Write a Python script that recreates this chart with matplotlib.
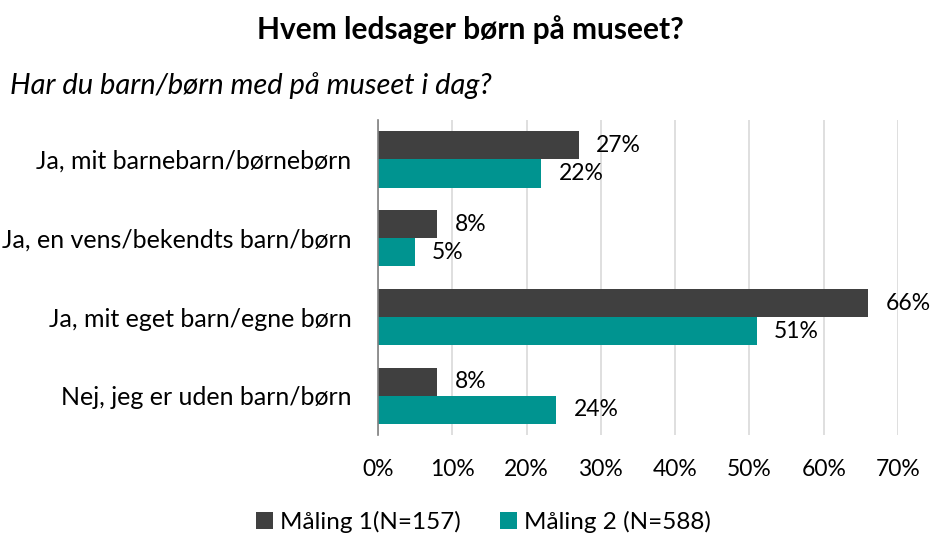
import matplotlib.pyplot as plt
import numpy as np

plt.rcParams['font.family'] = ['Lato', 'DejaVu Sans']

categories = ['Ja, mit barnebarn/børnebørn',
              'Ja, en vens/bekendts barn/børn',
              'Ja, mit eget barn/egne børn',
              'Nej, jeg er uden barn/børn']
maaling1 = [27, 8, 66, 8]
maaling2 = [22, 5, 51, 24]
labels = ['Måling 1(N=157)', 'Måling 2 (N=588)']
ticks = [0, 10, 20, 30, 40, 50, 60, 70]

c1 = '#404040'
c2 = '#009490'

fig = plt.figure(figsize=(9.31, 5.36), dpi=100)
ax = fig.add_axes([0.406, 0.188, 0.5586, 0.588])

y = np.arange(len(categories))
h = 0.356
b1 = ax.barh(y - h / 2, maaling1, height=h, color=c1, label=labels[0])
b2 = ax.barh(y + h / 2, maaling2, height=h, color=c2, label=labels[1])

for bars, vals in ((b1, maaling1), (b2, maaling2)):
    for bar, v in zip(bars, vals):
        ax.text(v + 2.3, bar.get_y() + bar.get_height() / 2, f'{v}%',
                va='center', ha='left', fontsize=16.5, color='#000000')

ax.set_ylim(len(categories) - 0.5, -0.5)
ax.set_xlim(0, 70)
ax.set_xticks(ticks)
ax.set_xticklabels([f'{t}%' for t in ticks], fontsize=16.5)
ax.set_yticks(y)
ax.set_yticklabels(categories, fontsize=18)
ax.tick_params(axis='both', length=0)
ax.tick_params(axis='x', pad=17)
ax.tick_params(axis='y', pad=19)

ax.grid(axis='x', color='#d9d9d9', linewidth=1.2)
ax.set_axisbelow(True)
for s in ['top', 'right', 'bottom']:
    ax.spines[s].set_visible(False)
ax.spines['left'].set_color('#808080')
ax.spines['left'].set_linewidth(1.2)

fig.text(0.505, 0.944, 'Hvem ledsager børn på museet?', ha='center', va='center',
         fontsize=21.5, fontweight='bold')
fig.text(0.011, 0.841, 'Har du barn/børn med på museet i dag?', ha='left', va='center',
         fontsize=21, style='italic')

fig.legend(loc='center', bbox_to_anchor=(0.519, 0.026), ncol=2, frameon=False,
           fontsize=17.5, handlelength=0.7, handleheight=0.7, handletextpad=0.3,
           columnspacing=1.6)

fig.savefig('out.png', dpi=100)
